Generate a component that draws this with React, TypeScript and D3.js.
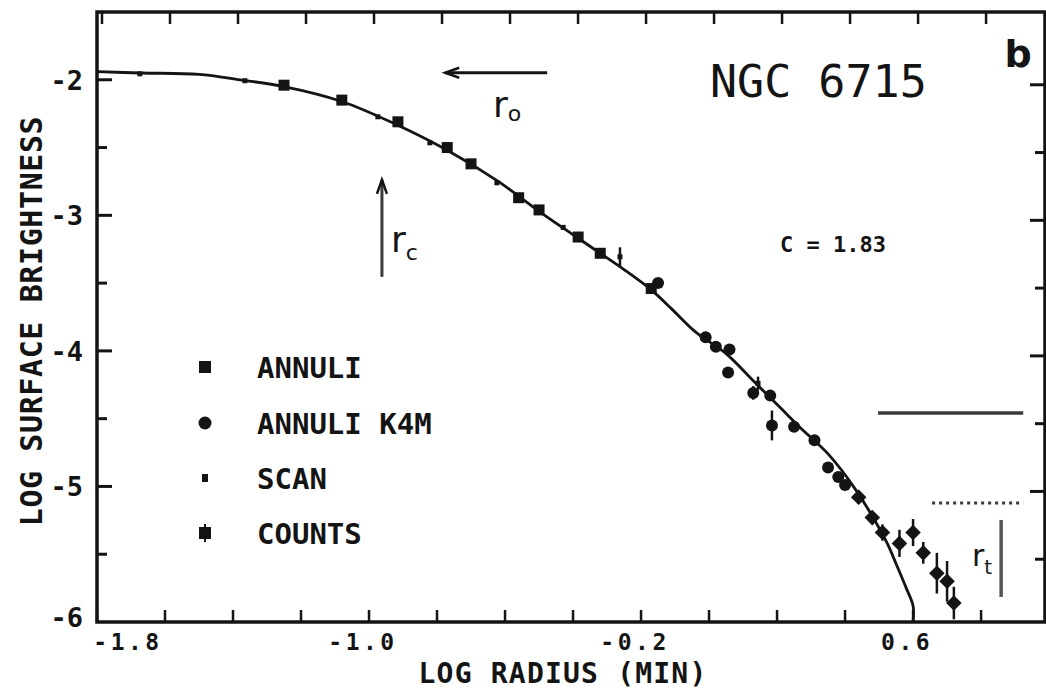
import React from 'react';
import * as d3 from 'd3';

// King-model fit curve (log radius [arcmin], log surface brightness)
const curveLogR = [-1.8, -1.67, -1.5, -1.38, -1.25, -1.08, -0.92, -0.77, -0.62, -0.5, -0.39, -0.32, -0.25, -0.17, -0.11, -0.04, 0.05, 0.13, 0.21, 0.27, 0.35, 0.43, 0.52, 0.55, 0.58, 0.6, 0.6];
const curveLogSB = [-1.94, -1.95, -1.96, -2.0, -2.05, -2.16, -2.33, -2.52, -2.75, -2.97, -3.16, -3.28, -3.4, -3.55, -3.69, -3.86, -4.02, -4.22, -4.42, -4.57, -4.76, -5.02, -5.4, -5.57, -5.75, -5.88, -6.0];

// ANNULI (squares)
const annuliLogR = [-1.25, -1.08, -0.915, -0.77, -0.70, -0.56, -0.50, -0.385, -0.32, -0.17];
const annuliLogSB = [-2.04, -2.15, -2.31, -2.50, -2.62, -2.87, -2.96, -3.16, -3.28, -3.54];

// ANNULI K4M (circles)
const k4mLogR = [-0.15, -0.01, 0.02, 0.06, 0.056, 0.13, 0.18, 0.185, 0.25, 0.31, 0.35, 0.38, 0.40];
const k4mLogSB = [-3.50, -3.90, -3.97, -3.99, -4.16, -4.31, -4.33, -4.55, -4.56, -4.66, -4.86, -4.93, -4.99];
const k4mErr = [0, 0, 0, 0, 0, 0.05, 0, 0.11, 0, 0, 0, 0, 0];

// SCAN (small dots)
const scanLogR = [-1.674, -1.365, -0.974, -0.821, -0.624, -0.429, -0.262, 0.144];
const scanLogSB = [-1.956, -2.007, -2.273, -2.465, -2.76, -3.089, -3.306, -4.24];
const scanErr = [0, 0, 0, 0, 0, 0, 0.07, 0.05];

// COUNTS (squares with error bars)
const countsLogR = [0.44, 0.48, 0.51, 0.56, 0.60, 0.63, 0.67, 0.70, 0.72];
const countsLogSB = [-5.08, -5.23, -5.34, -5.42, -5.34, -5.49, -5.64, -5.70, -5.86];
const countsErr = [0.05, 0.05, 0.06, 0.10, 0.10, 0.08, 0.15, 0.15, 0.12];

const xTickValues = [-1.8, -1.6, -1.4, -1.2, -1.0, -0.8, -0.6, -0.4, -0.2, 0, 0.2, 0.4, 0.6, 0.8];
const xLabelValues = [-1.8, -1.0, -0.2, 0.6];
const xLabelTexts = ['-1.8', '-1.0', '-0.2', '0.6'];
const yTickValues = [-2, -2.5, -3, -3.5, -4, -4.5, -5, -5.5];
const yLabelValues = [-2, -3, -4, -5, -6];
const yLabelTexts = ['-2', '-3', '-4', '-5', '-6'];
const legendLabels = ['ANNULI', 'ANNULI K4M', 'SCAN', 'COUNTS'];

const MONO = "'DejaVu Sans Mono', 'Liberation Mono', monospace";
const INK = '#141414';

export default function App() {
  const W = 1046, H = 690;
  const left = 97, right = 1045, top = 12, bottom = 622;
  const x = d3.scaleLinear().domain([-1.8, 0.988]).range([left, right]);
  const y = d3.scaleLinear().domain([-6, -1.5]).range([bottom, top]);

  const curvePts = curveLogR.map((r, i) => [r, curveLogSB[i]] as [number, number]);
  const line = d3.line<[number, number]>()
    .x(d => x(d[0]))
    .y(d => y(d[1]))
    .curve(d3.curveCatmullRom.alpha(0.5));

  const errBar = (r: number, s: number, e: number, key: string) =>
    e > 0 ? (
      <line key={key} x1={x(r)} x2={x(r)} y1={y(s + e)} y2={y(s - e)} stroke={INK} strokeWidth={2.5} />
    ) : null;

  const legendY = [367, 423, 478, 533];
  const legendX = 205;

  return (
    <svg width={W} height={H} style={{ position: 'absolute', left: 0, top: 0, background: '#fff' }}
      xmlns="http://www.w3.org/2000/svg">
      <rect x={0} y={0} width={W} height={H} fill="#fff" />

      {/* frame */}
      <rect x={left} y={top} width={right - left} height={bottom - top} fill="none" stroke={INK} strokeWidth={3.5} />

      {/* bottom & top ticks */}
      {xTickValues.map((v, i) => (
        <g key={'xt' + i}>
          <line x1={x(v)} x2={x(v)} y1={bottom} y2={bottom - 12} stroke={INK} strokeWidth={2.5} />
          <line x1={x(v) + 5} x2={x(v) + 5} y1={top} y2={top + 12} stroke={INK} strokeWidth={2.5} />
        </g>
      ))}
      {/* left & right ticks */}
      {yTickValues.map((v, i) => {
        const major = Number.isInteger(v);
        const len = major ? 15 : 10;
        return (
          <g key={'yt' + i}>
            <line x1={left} x2={left + len} y1={y(v)} y2={y(v)} stroke={INK} strokeWidth={3} />
            <line x1={right} x2={right - len} y1={y(v) + 5} y2={y(v) + 5} stroke={INK} strokeWidth={3} />
          </g>
        );
      })}

      {/* x tick labels */}
      {xLabelValues.map((v, i) => (
        <text key={'xl' + i} x={i === 0 ? x(v) + 31 : x(v) - 6} y={650} textAnchor="middle"
          fontFamily={MONO} fontWeight="bold" fontSize={23} letterSpacing={3.5} fill={INK}>
          {xLabelTexts[i]}
        </text>
      ))}
      {/* y tick labels */}
      {yLabelValues.map((v, i) => (
        <text key={'yl' + i} x={83} y={i === yLabelValues.length - 1 ? y(v) + 5 : y(v) + 10} textAnchor="end"
          fontFamily={MONO} fontWeight="bold" fontSize={27} fill={INK}>
          {yLabelTexts[i]}
        </text>
      ))}

      {/* axis titles */}
      <text x={563} y={683} textAnchor="middle" fontFamily={MONO} fontWeight="bold" fontSize={28}
        letterSpacing={1.2} fill={INK}>
        LOG RADIUS (MIN)
      </text>
      <text transform="translate(42,321) rotate(-90)" textAnchor="middle" fontFamily={MONO} fontWeight="bold"
        fontSize={30} letterSpacing={0.6} fill={INK}>
        LOG SURFACE BRIGHTNESS
      </text>

      {/* model curve */}
      <path d={line(curvePts) || ''} fill="none" stroke={INK} strokeWidth={2.8} />

      {/* scan dots */}
      {scanLogR.map((r, i) => (
        <g key={'sc' + i}>
          {errBar(r, scanLogSB[i], scanErr[i], 'se' + i)}
          <rect x={x(r) - 2.5} y={y(scanLogSB[i]) - 2.5} width={5} height={5} fill={INK} />
        </g>
      ))}
      {/* annuli squares */}
      {annuliLogR.map((r, i) => (
        <rect key={'an' + i} x={x(r) - 5.5} y={y(annuliLogSB[i]) - 5.5} width={11} height={11} fill={INK} />
      ))}
      {/* K4M circles */}
      {k4mLogR.map((r, i) => (
        <g key={'k' + i}>
          {errBar(r, k4mLogSB[i], k4mErr[i], 'ke' + i)}
          <circle cx={x(r)} cy={y(k4mLogSB[i])} r={6} fill={INK} />
        </g>
      ))}
      {/* counts */}
      {countsLogR.map((r, i) => (
        <g key={'c' + i}>
          {errBar(r, countsLogSB[i], countsErr[i], 'ce' + i)}
          <rect x={x(r) - 5.5} y={y(countsLogSB[i]) - 5.5} width={11} height={11} fill={INK}
            transform={`rotate(45 ${x(r)} ${y(countsLogSB[i])})`} />
        </g>
      ))}

      {/* legend */}
      <rect x={legendX - 6} y={legendY[0] - 6} width={12} height={12} fill={INK} />
      <circle cx={legendX} cy={legendY[1]} r={6.5} fill={INK} />
      <rect x={legendX - 3} y={legendY[2] - 4} width={6} height={8} fill={INK} />
      <rect x={legendX - 6} y={legendY[3] - 6} width={12} height={12} fill={INK} />
      <line x1={legendX} x2={legendX} y1={legendY[3] - 9} y2={legendY[3] + 9} stroke={INK} strokeWidth={2} />
      {legendLabels.map((t, i) => (
        <text key={'lg' + i} x={257} y={legendY[i] + 11} fontFamily={MONO} fontWeight="bold" fontSize={29}
          fill={INK}>{t}</text>
      ))}

      {/* annotations */}
      <text x={710} y={97} fontFamily={MONO} fontSize={45} fill={INK}>NGC 6715</text>
      <text x={1018} y={67} textAnchor="middle" fontFamily="'DejaVu Sans', sans-serif" fontWeight="bold"
        fontSize={38} fill={INK}>b</text>
      <text x={780} y={252} fontFamily={MONO} fontWeight="bold" fontSize={22} fill={INK}>C = 1.83</text>

      {/* r0 arrow */}
      <line x1={x(-0.776)} x2={x(-0.476)} y1={y(-1.948)} y2={y(-1.948)} stroke={INK} strokeWidth={3} />
      <path d={`M${x(-0.776) + 14},${y(-1.948) - 5} L${x(-0.776)},${y(-1.948)} L${x(-0.776) + 14},${y(-1.948) + 5}`}
        fill="none" stroke={INK} strokeWidth={2.5} />
      <text x={493} y={117} fontFamily="'DejaVu Sans', sans-serif" fontSize={36} fill={INK}>
        r<tspan fontSize={22} dy={4}>o</tspan>
      </text>

      {/* rc arrow */}
      <line x1={x(-0.962)} x2={x(-0.962)} y1={y(-2.738)} y2={y(-3.454)} stroke="#3a3a3a" strokeWidth={3} />
      <path d={`M${x(-0.962) - 5},${y(-2.738) + 14} L${x(-0.962)},${y(-2.738)} L${x(-0.962) + 5},${y(-2.738) + 14}`}
        fill="none" stroke={INK} strokeWidth={2.5} />
      <text x={391} y={252} fontFamily="'DejaVu Sans', sans-serif" fontSize={36} fill={INK}>
        r<tspan fontSize={22} dy={8}>c</tspan>
      </text>

      {/* level lines near right */}
      <line x1={x(0.497)} x2={x(0.924)} y1={y(-4.458)} y2={y(-4.458)} stroke="#3a3a3a" strokeWidth={3.5} />
      <line x1={x(0.656)} x2={x(0.924)} y1={y(-5.122)} y2={y(-5.122)} stroke="#3a3a3a" strokeWidth={3}
        strokeDasharray="3,4" />

      {/* rt marker */}
      <line x1={x(0.859)} x2={x(0.859)} y1={y(-5.247)} y2={y(-5.815)} stroke="#555" strokeWidth={3.5} />
      <text x={972} y={566} fontFamily="'DejaVu Sans', sans-serif" fontSize={30} fill={INK}>
        r<tspan fontSize={20} dy={8}>t</tspan>
      </text>
    </svg>
  );
}
